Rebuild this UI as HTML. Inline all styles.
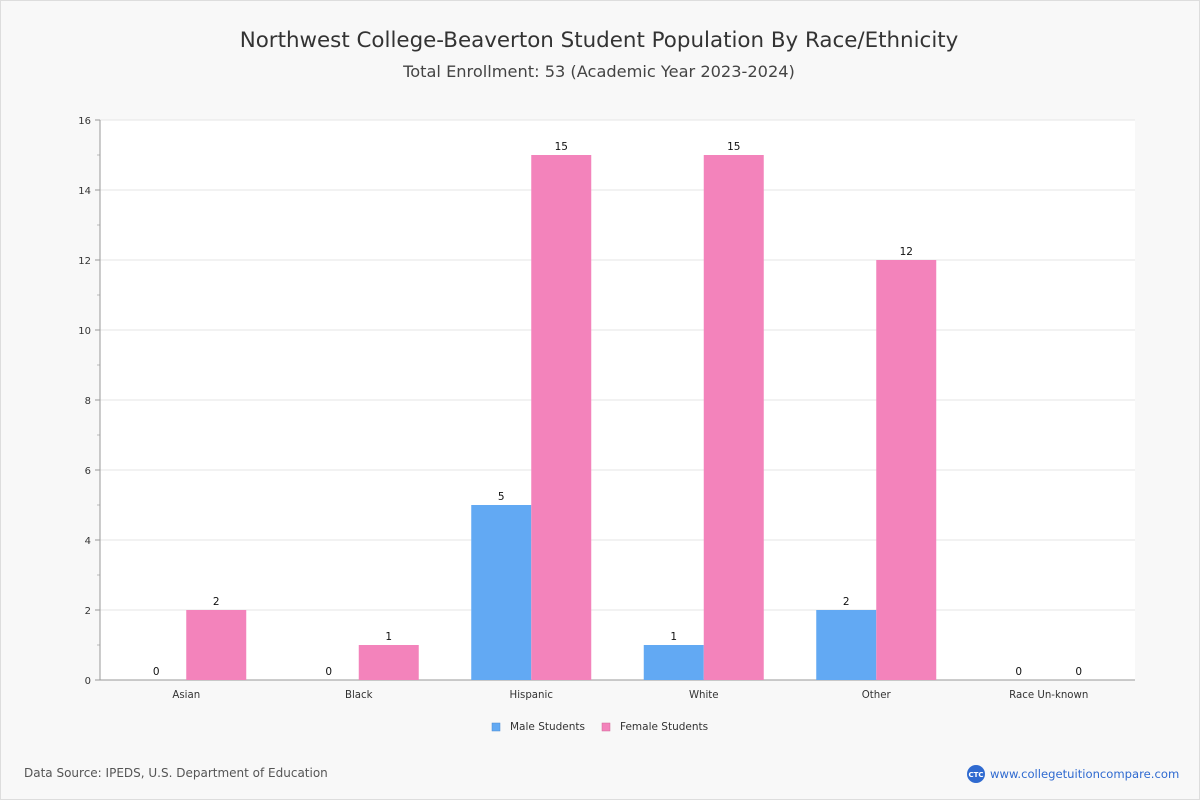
<!DOCTYPE html>
<html><head><meta charset="utf-8"><style>
body{margin:0;background:#fff;font-family:"DejaVu Sans","Liberation Sans",sans-serif}
#wrap{position:relative;width:1198px;height:798px;background:#f8f8f8;border:1px solid #ddd}
</style></head><body>
<div id="wrap">
<svg id="svg" width="1198" height="798" xmlns="http://www.w3.org/2000/svg" font-family="DejaVu Sans, Liberation Sans, sans-serif">
<text x="598" y="46" text-anchor="middle" font-size="21.4" fill="#333">Northwest College-Beaverton Student Population By Race/Ethnicity</text>
<text x="598" y="76" text-anchor="middle" font-size="16.2" fill="#444">Total Enrollment: 53 (Academic Year 2023-2024)</text>
<rect x="99" y="119" width="1035" height="560" fill="#fff"/>
<g id="grid"></g><g id="bars"></g><g id="labels"></g>
<g>
<rect x="491" y="722" width="8" height="8" fill="#62a9f3" stroke="#4a8ad0" stroke-width="0.5"/>
<text x="509" y="729" font-size="10.5" fill="#333">Male Students</text>
<rect x="601" y="722" width="8" height="8" fill="#f383bb" stroke="#d06699" stroke-width="0.5"/>
<text x="619" y="729" font-size="10.5" fill="#333">Female Students</text>
</g>
<text x="23" y="776" font-size="12" fill="#555">Data Source: IPEDS, U.S. Department of Education</text>
<g>
<circle cx="975" cy="773" r="9" fill="#2f6ad0"/>
<text x="975" y="776" text-anchor="middle" font-size="7" fill="#fff" font-weight="bold">CTC</text>
<text x="989" y="777" font-size="11.6" fill="#2f6ad0">www.collegetuitioncompare.com</text>
</g>
</svg></div>
<script>
const categories=["Asian","Black","Hispanic","White","Other","Race Un-known"];
const maleValues=[0,0,5,1,2,0];
const femaleValues=[2,1,15,15,12,0];
const yTicks=[0,2,4,6,8,10,12,14,16];
const NS="http://www.w3.org/2000/svg";
const X0=99,X1=1134,Y0=679,Y1=119,YMAX=16;
const bw=(X1-X0)/categories.length, barW=60;
const y=v=>Y0-(v/YMAX)*(Y0-Y1);
const xc=i=>X0+bw*(i+0.5);
function mk(t,a,p){const e=document.createElementNS(NS,t);for(const k in a)e.setAttribute(k,a[k]);p.appendChild(e);return e;}
const grid=document.getElementById('grid'),bars=document.getElementById('bars'),labels=document.getElementById('labels');
yTicks.forEach(v=>{
 const l=mk('line',{x1:X0,x2:X1,y1:y(v),y2:y(v),stroke:'#e6e6e6'},grid);
 
 
 const t=mk('text',{x:X0-9,y:y(v)+4,'text-anchor':'end','font-size':10,fill:'#333'},grid);
 t.textContent=v;
 
 
 mk('line',{x1:X0-5,x2:X0,y1:y(v),y2:y(v),stroke:'#999'},grid);
 if(v<YMAX) mk('line',{x1:X0-3,x2:X0,y1:y(v+1),y2:y(v+1),stroke:'#bbb'},grid);
});
mk('line',{x1:X0,x2:X0,y1:Y1,y2:Y0,stroke:'#999'},grid);
mk('line',{x1:X0,x2:X1,y1:Y0,y2:Y0,stroke:'#999'},grid);
categories.forEach((c,i)=>{
 const cx=xc(i);
 [[maleValues[i],cx-barW,'#62a9f3','bar-male'],[femaleValues[i],cx,'#f383bb','bar-female']].forEach(([v,x,col,n])=>{
  const r=mk('rect',{x:x,y:y(v),width:barW,height:Y0-y(v),fill:col},bars);
  
  
  const t=mk('text',{x:x+barW/2,y:y(v)-5,'text-anchor':'middle','font-size':10.5,fill:'#111'},labels);
  t.textContent=v;
  
  
 });
 const t=mk('text',{x:cx,y:Y0+18,'text-anchor':'middle','font-size':10.2,fill:'#333'},labels);
 t.textContent=c;
 
 
});
</script>
</body></html>
